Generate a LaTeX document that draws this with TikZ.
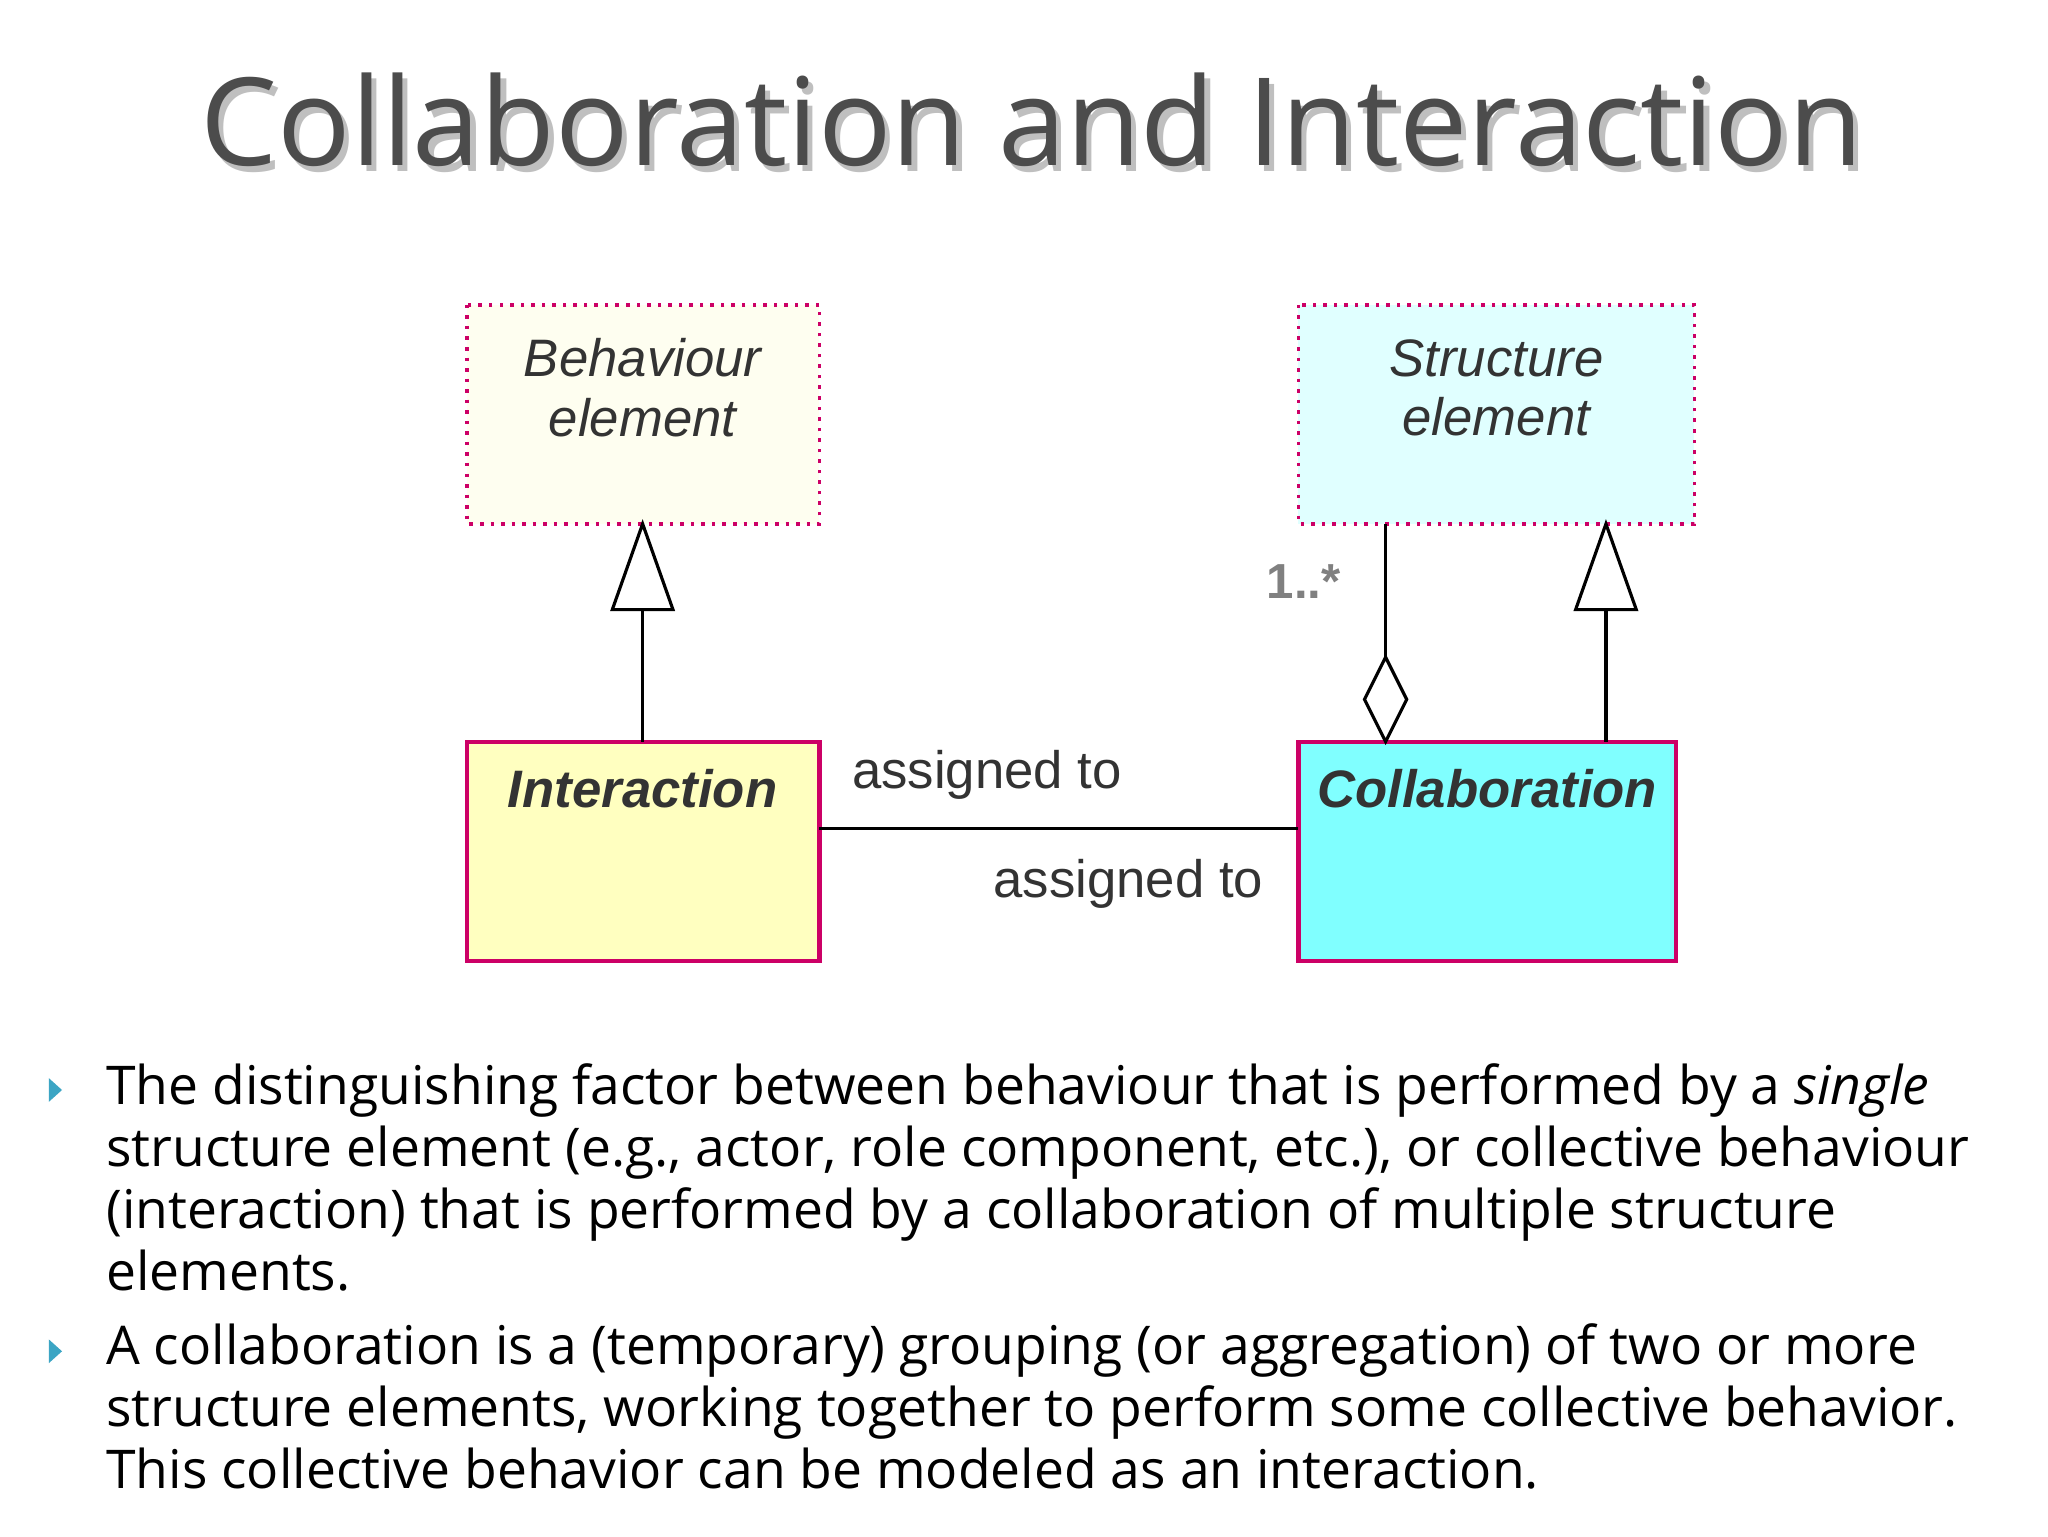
\documentclass[tikz,border=0pt]{standalone}
\usepackage{fontspec}
\setmainfont{Open Sans}
\newfontfamily\diafont{Liberation Sans}
\definecolor{bord}{HTML}{CC0066}
\definecolor{yel}{HTML}{FFFFC0}
\definecolor{lyel}{HTML}{FEFEF0}
\definecolor{cyn}{HTML}{80FFFF}
\definecolor{lcyn}{HTML}{E0FFFF}
\definecolor{bulc}{HTML}{3BA5C4}
\begin{document}
\begin{tikzpicture}[x=0.0132cm,y=-0.0132cm,
  dotbox/.style={draw=bord,dotted,line width=1pt},
  solidbox/.style={draw=bord,line width=1.2pt},
  dlab/.style={font=\diafont\itshape\fontsize{15}{17}\selectfont,text=black!80,align=center},
  line/.style={line width=0.9pt},
  body/.style={anchor=base west,inner sep=0pt,font=\fontsize{15.2}{17}\selectfont},
  bul/.style={fill=bulc,draw=none}]
\useasboundingbox (0,0) rectangle (1552,1164);
\fill[white] (0,0) rectangle (1552,1164);
% title
\node[text=black!25,font=\fontsize{34.7}{40}\selectfont] at (786,95) {Collaboration and Interaction};
\node[text=black!70,font=\fontsize{34.7}{40}\selectfont] (title) at (782,91) {Collaboration and Interaction};
% boxes
\fill[lyel] (354,231) rectangle (621,397);
\draw[dotbox] (354,231) rectangle (621,397);
\coordinate (bb) at (487,397);
\node[dlab] (beh) at (487,294) {Behaviour\\element};
\fill[lcyn] (984,231) rectangle (1284,397);
\draw[dotbox] (984,231) rectangle (1284,397);
\coordinate (sb) at (1217,397);
\coordinate (sa) at (1050,397);
\node[dlab] (str) at (1134,294) {Structure\\element};
\draw[solidbox,fill=yel] (354,562) rectangle (621,728);
\node[dlab,font=\diafont\bfseries\itshape\fontsize{15}{17}\selectfont] (int) at (487,598) {Interaction};
\coordinate (it) at (487,562);
\coordinate (ir) at (621,628);
\draw[solidbox,fill=cyn] (984,562) rectangle (1270,728);
\node[dlab,font=\diafont\bfseries\itshape\fontsize{15}{17}\selectfont] (col) at (1127,598) {Collaboration};
\coordinate (ct) at (1217,562);
\coordinate (cd) at (1050,562);
\coordinate (cl) at (984,628);
% generalizations
\draw[line] (it) -- ++(0,-100);
\draw[line,fill=white] (bb) -- ++(23,65) -- ++(-46,0) -- cycle;
\draw[line] (ct) -- ++(0,-100);
\draw[line,fill=white] (sb) -- ++(23,65) -- ++(-46,0) -- cycle;
% aggregation
\draw[line] (sa) -- ++(0,101);
\draw[line,fill=white] (cd) -- ++(-16,-32) -- ++(16,-32) -- ++(16,32) -- cycle;
\node[font=\diafont\bfseries\fontsize{14}{16}\selectfont,text=black!50] (m) at (988,441) {1..*};
% association
\draw[line] (ir) -- (cl);
\node[font=\diafont\fontsize{15}{17}\selectfont,text=black!80] (a1) at (748,587) {assigned to};
\node[font=\diafont\fontsize{15}{17}\selectfont,text=black!80] (a2) at (855,670) {assigned to};
% bullets
\fill[bul] (37,817) -- (47,826) -- (37,835) -- cycle;
\fill[bul] (37,1015) -- (47,1024) -- (37,1033) -- cycle;
\node[body] (l1) at (80,837) {The distinguishing factor between behaviour that is performed by a \textit{single}};
\node[body] (l2) at (80,884) {structure element (e.g., actor, role component, etc.), or collective behaviour};
\node[body] (l3) at (80,931) {(interaction) that is performed by a collaboration of multiple structure};
\node[body] (l4) at (80,978) {elements.};
\node[body] (l5) at (80,1034) {A collaboration is a (temporary) grouping (or aggregation) of two or more};
\node[body] (l6) at (80,1081) {structure elements, working together to perform some collective behavior.};
\node[body] (l7) at (80,1128) {This collective behavior can be modeled as an interaction.};
\end{tikzpicture}
\end{document}
